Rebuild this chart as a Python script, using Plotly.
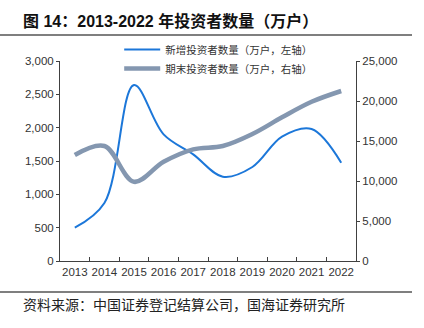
import plotly.graph_objects as go

years = ["2013", "2014", "2015", "2016", "2017", "2018", "2019", "2020", "2021", "2022"]
new_investors = [500, 870, 2640, 1900, 1600, 1265, 1410, 1865, 1980, 1475]
end_investors = [13250, 14375, 9900, 12400, 13960, 14375, 15875, 17960, 19900, 21250]
left_ticks = [0, 500, 1000, 1500, 2000, 2500, 3000]
right_ticks = [0, 5000, 10000, 15000, 20000, 25000]
name_new = "新增投资者数量（万户，左轴）"
name_end = "期末投资者数量（万户，右轴）"
title_text = "图 14：2013-2022 年投资者数量（万户）"
source_text = "资料来源：中国证券登记结算公司，国海证券研究所"

BLUE = "#1C77D9"
GRAY = "#8497B0"
AX = "#404040"
LAT = "Liberation Sans, Arial, sans-serif"
CJK = "Noto Sans CJK SC, sans-serif"

fig = go.Figure()
fig.add_trace(go.Scatter(x=years, y=new_investors, name=name_new, mode="lines",
                         line=dict(color=BLUE, width=2, shape="spline", smoothing=1.0),
                         yaxis="y"))
fig.add_trace(go.Scatter(x=years, y=end_investors, name=name_end, mode="lines",
                         line=dict(color=GRAY, width=4.5, shape="spline", smoothing=1.0),
                         yaxis="y2"))

fig.update_layout(
    width=424, height=328,
    margin=dict(l=60, r=68, t=61, b=67),
    paper_bgcolor="white", plot_bgcolor="white",
    showlegend=True,
    legend=dict(x=0.2, y=1.13, xanchor="left", yanchor="top",
                bgcolor="rgba(0,0,0,0)", borderwidth=0,
                font=dict(family=CJK, size=10.5, color="#333333"),
                tracegroupgap=0, itemwidth=36),
    xaxis=dict(type="category", range=[-0.5, 9.5], showline=True, linecolor=AX, linewidth=1,
               ticks="inside", ticklen=4, tickcolor=AX, tickson="boundaries", tickangle=0,
               showgrid=False, zeroline=False,
               tickfont=dict(family=LAT, size=11.5, color="#333333"), fixedrange=True),
    yaxis=dict(range=[0, 3000], tickvals=left_ticks, tickformat=",", showline=True,
               linecolor=AX, linewidth=1, ticks="outside", ticklen=3, tickcolor=AX,
               showgrid=False, zeroline=False,
               tickfont=dict(family=LAT, size=11.5, color="#333333")),
    yaxis2=dict(range=[0, 25000], tickvals=right_ticks, tickformat=",", overlaying="y",
                side="right", showline=True, linecolor=AX, linewidth=1, ticks="outside",
                ticklen=3, tickcolor=AX, showgrid=False, zeroline=False,
                tickfont=dict(family=LAT, size=11.5, color="#333333")),
)

# title and source texts
fig.add_annotation(text="<b>" + title_text + "</b>", xref="paper", yref="paper",
                   x=(21 - 60) / 296, y=(261 - 21) / 200, xanchor="left", yanchor="middle",
                   showarrow=False, font=dict(family="Liberation Sans, Noto Sans CJK SC, sans-serif",
                                              size=16, color="#111111"))
fig.add_annotation(text=source_text, xref="paper", yref="paper",
                   x=(21 - 60) / 296, y=(261 - 304) / 200, xanchor="left", yanchor="middle",
                   showarrow=False, font=dict(family=CJK, size=14, color="#222222"))
# separator lines
for ypx in (35, 292):
    fig.add_shape(type="line", xref="paper", yref="paper",
                  x0=(0 - 60) / 296, x1=(412 - 60) / 296,
                  y0=(261 - ypx) / 200, y1=(261 - ypx) / 200,
                  line=dict(color="#555555", width=1.5))

fig.write_html("out.html")
